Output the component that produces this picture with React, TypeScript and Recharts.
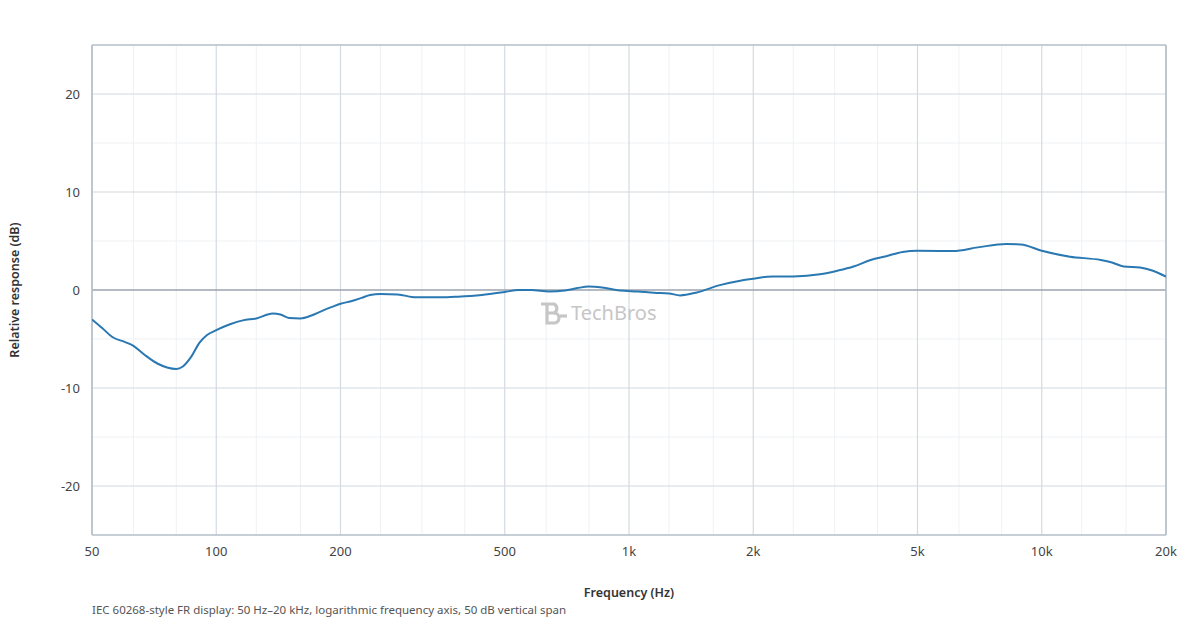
import { LineChart, Line, XAxis, YAxis, ReferenceLine } from 'recharts';

const freqs = [
  50, 53, 56, 60, 63, 67, 72, 76, 80, 83, 87, 91, 95, 100, 108, 116, 125, 137, 143, 150,
  160, 170, 180, 190, 200, 212, 225, 236, 250, 275, 305, 350, 385, 440, 500, 540, 580, 640,
  700, 750, 800, 860, 950, 1050, 1150, 1250, 1330, 1460, 1660, 1860, 2000, 2160, 2500, 2900,
  3200, 3500, 3850, 4200, 4600, 5000, 6100, 7000, 8200, 8900, 10000, 11700, 13900, 14800,
  15800, 17300, 18600, 20000,
];
const response = [
  -3.0, -3.9, -4.8, -5.3, -5.7, -6.6, -7.5, -7.9, -8.05, -7.8, -6.8, -5.4, -4.6, -4.1, -3.5,
  -3.1, -2.9, -2.4, -2.5, -2.85, -2.9, -2.6, -2.15, -1.75, -1.4, -1.15, -0.8, -0.5, -0.4,
  -0.45, -0.75, -0.75, -0.68, -0.5, -0.2, 0.0, 0.0, -0.15, -0.05, 0.2, 0.35, 0.25, -0.05,
  -0.15, -0.28, -0.35, -0.55, -0.25, 0.5, 0.95, 1.15, 1.36, 1.38, 1.6, 1.97, 2.4, 3.06, 3.45,
  3.88, 4.0, 3.98, 4.35, 4.7, 4.65, 4.0, 3.4, 3.06, 2.8, 2.4, 2.3, 1.97, 1.36,
];

const freqTicks = [50, 100, 200, 500, 1000, 2000, 5000, 10000, 20000];
const freqMinor = [63, 80, 125, 160, 250, 315, 400, 630, 800, 1250, 1600, 2500, 3150, 4000, 6300, 8000, 12500, 16000];
const dbTicks = [-20, -10, 0, 10, 20];
const dbMinor = [-15, -5, 5, 15];

const data = freqs.map((f, i) => ({ f, db: response[i] }));

const font = '"Noto Sans", "Open Sans", sans-serif';
const fmtFreq = (v: number) => (v >= 1000 ? `${v / 1000}k` : `${v}`);

export default function App() {
  return (
    <div style={{ position: 'absolute', left: 0, top: 0, width: 1200, height: 620, background: '#fff', fontFamily: font }}>
      <LineChart width={1200} height={620} data={data} margin={{ top: 45, right: 34, bottom: 55, left: 32 }}>
        {freqMinor.map((f) => (
          <ReferenceLine key={`fm${f}`} x={f} stroke="#eef1f4" strokeWidth={1} />
        ))}
        {dbMinor.map((d) => (
          <ReferenceLine key={`dm${d}`} y={d} stroke="#eef1f4" strokeWidth={1} />
        ))}
        {freqTicks.map((f) => (
          <ReferenceLine key={`fM${f}`} x={f} stroke="#d3dae0" strokeWidth={1.2} />
        ))}
        {dbTicks.map((d) => (
          <ReferenceLine key={`dM${d}`} y={d} stroke={d === 0 ? '#9aa3ad' : '#d3dae0'} strokeWidth={d === 0 ? 1.6 : 1.2} />
        ))}
        <ReferenceLine x={50} stroke="#b4bec8" strokeWidth={1.6} />
        <ReferenceLine x={20000} stroke="#b4bec8" strokeWidth={1.6} />
        <ReferenceLine y={25} stroke="#b4bec8" strokeWidth={1.6} />
        <ReferenceLine y={-25} stroke="#b4bec8" strokeWidth={1.6} />
        <XAxis
          dataKey="f"
          type="number"
          scale="log"
          domain={[50, 20000]}
          ticks={freqTicks}
          tickFormatter={fmtFreq}
          allowDataOverflow
          axisLine={false}
          tickLine={false}
          tickSize={0}
          tickMargin={12}
          tick={{ fill: '#444', fontSize: 13, fontFamily: font }}
          height={30}
        />
        <YAxis
          type="number"
          domain={[-25, 25]}
          ticks={dbTicks}
          axisLine={false}
          tickLine={false}
          tickSize={0}
          tickMargin={12}
          tick={{ fill: '#444', fontSize: 13, fontFamily: font }}
          width={60}
        />
        <Line
          type="monotone"
          dataKey="db"
          stroke="#2a78b2"
          strokeWidth={2}
          dot={false}
          isAnimationActive={false}
        />
      </LineChart>
      <div
        style={{
          position: 'absolute',
          left: 540,
          top: 299,
          display: 'flex',
          alignItems: 'center',
          color: '#c6c6c6',
          fontSize: 20,
          pointerEvents: 'none',
        }}
      >
        <svg width={28} height={24} viewBox="0 0 28 24">
          <g fill="none" stroke="#c6c6c6" strokeWidth={3.2}>
            <path d="M1 3 H14 a5 5 0 0 1 0 9 H7" />
            <path d="M7 3 V22 H14 a5 5 0 0 0 0 -10" />
            <path d="M20 15 H27" />
          </g>
        </svg>
        <span style={{ marginLeft: 3 }}>TechBros</span>
      </div>
      <div
        style={{
          position: 'absolute',
          left: 92,
          width: 1074,
          top: 584,
          textAlign: 'center',
          fontSize: 12.5,
          fontWeight: 600,
          color: '#333',
        }}
      >
        Frequency (Hz)
      </div>
      <div
        style={{
          position: 'absolute',
          left: 14,
          top: 290,
          transform: 'translate(-50%, -50%) rotate(-90deg)',
          whiteSpace: 'nowrap',
          fontSize: 12.5,
          fontWeight: 600,
          color: '#333',
        }}
      >
        Relative response (dB)
      </div>
      <div style={{ position: 'absolute', left: 92, top: 602, fontSize: 11.5, color: '#555', whiteSpace: 'nowrap' }}>
        IEC 60268-style FR display: 50 Hz–20 kHz, logarithmic frequency axis, 50 dB vertical span
      </div>
    </div>
  );
}
